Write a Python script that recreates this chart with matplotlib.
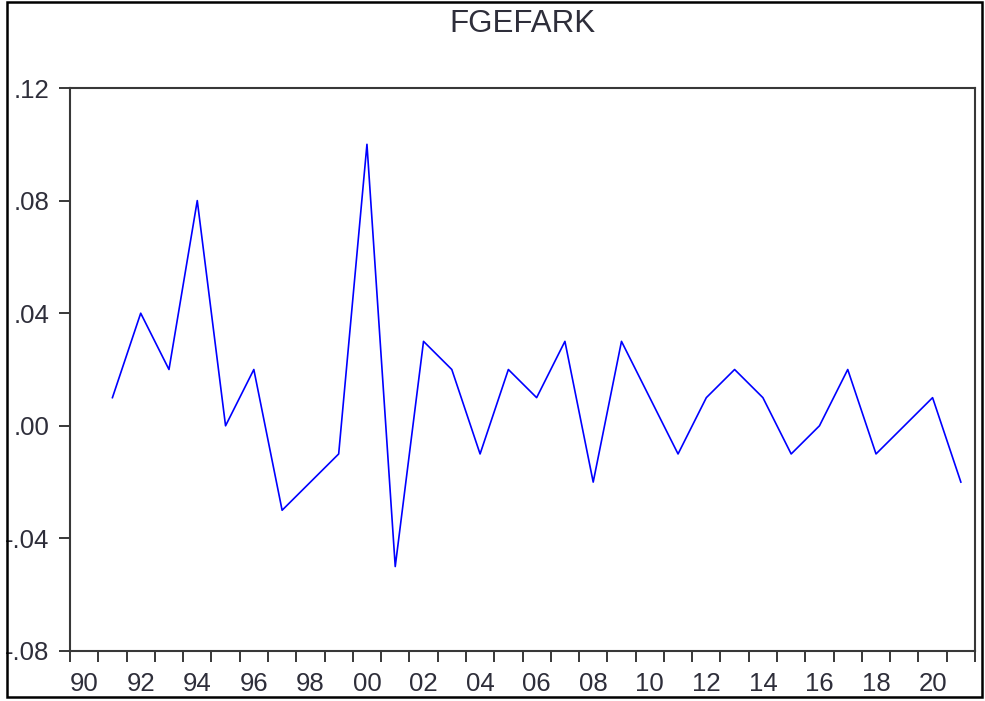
import numpy as np
import matplotlib
matplotlib.use('Agg')
import matplotlib.pyplot as plt
from matplotlib.patches import Rectangle

# Annual series, 1991-2021
years = list(range(1991, 2022))
fgefark = [0.01, 0.04, 0.02, 0.08, 0.00, 0.02, -0.03, -0.02, -0.01, 0.10,
           -0.05, 0.03, 0.02, -0.01, 0.02, 0.01, 0.03, -0.02, 0.03, 0.01,
           -0.01, 0.01, 0.02, 0.01, -0.01, 0.00, 0.02, -0.01, 0.00, 0.01,
           -0.02]

y_ticks = [-0.08, -0.04, 0.00, 0.04, 0.08, 0.12]
y_labels = ['-.08', '-.04', '.00', '.04', '.08', '.12']
x_label_years = list(range(1990, 2021, 2))
x_labels = [f'{y % 100:02d}' for y in x_label_years]

plt.rcParams['font.family'] = ['Liberation Sans', 'DejaVu Sans']
text_color = '#2e2e3a'
spine_color = '#383838'

fig = plt.figure(figsize=(9.85, 7.01), dpi=100)
ax = fig.add_axes([70 / 985, 1 - 651 / 701, 905 / 985, 563 / 701])

ax.plot(years, fgefark, color='#0000ff', lw=1.2)

ax.set_xlim(1989.5, 2021.5)
ax.set_ylim(-0.08, 0.12)

# year boundary ticks (no labels), labels centred on the years
ax.set_xticks(np.arange(1989.5, 2022, 1.0))
ax.set_xticklabels([])
ax.set_xticks(x_label_years, minor=True)
ax.set_xticklabels(x_labels, minor=True)
ax.tick_params(axis='x', which='major', direction='out', length=8, width=1.4,
               color=spine_color)
ax.tick_params(axis='x', which='minor', length=0, pad=15, labelsize=18.5,
               labelcolor=text_color)

ax.set_yticks(y_ticks)
ax.set_yticklabels(y_labels)
ax.tick_params(axis='y', direction='out', length=8, width=1.4, pad=7,
               labelsize=18.5, color=spine_color, labelcolor=text_color)

for s in ax.spines.values():
    s.set_linewidth(1.5)
    s.set_color(spine_color)

fig.text(522.5 / 985, 1 - 32 / 701, 'FGEFARK', ha='center', va='baseline',
         fontsize=22.5, color=text_color)

# outer frame
fig.patches.append(Rectangle((7 / 985, 4 / 701), 975 / 985, 695 / 701,
                             transform=fig.transFigure, fill=False,
                             edgecolor='black', lw=1.8))

plt.savefig('out.png', dpi=100)
plt.close()
